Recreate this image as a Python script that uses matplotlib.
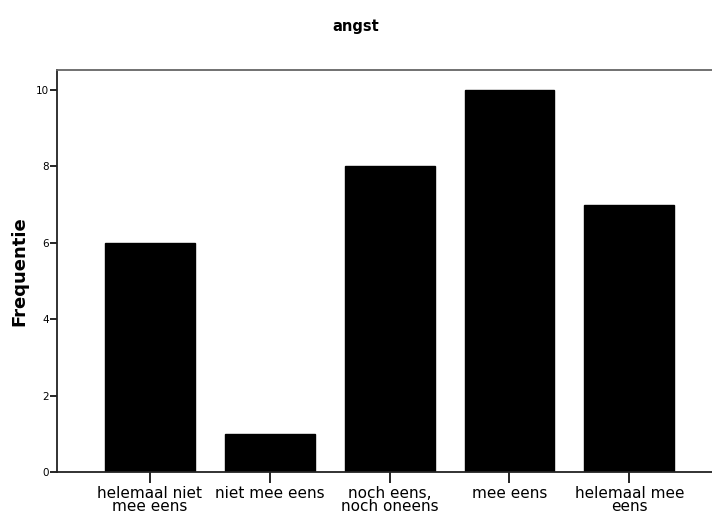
import matplotlib
matplotlib.use("Agg")
import matplotlib.pyplot as plt

categories = ["helemaal niet\nmee eens", "niet mee eens", "noch eens,\nnoch oneens", "mee eens", "helemaal mee\neens"]
values = [6, 1, 8, 10, 7]
yticks = [0, 2, 4, 6, 8, 10]

plt.rcParams['font.family'] = ['DejaVu Sans']
fig = plt.figure(figsize=(7.12, 5.18), dpi=100)
ax = fig.add_axes([57/712, 1-472/518, 1-57/712, (472-70)/518])
x = list(range(len(categories)))
ax.bar(x, values, width=0.75, color='black', edgecolor='black')
ax.set_xlim(-0.775, 4.69)
ax.set_ylim(0, 10.52)
ax.set_yticks(yticks)
ax.set_yticklabels([str(v) for v in yticks], fontsize=7.5)
ax.set_xticks(x)
ax.set_xticklabels(categories, fontsize=11, linespacing=0.85)
ax.tick_params(axis='y', direction='out', length=5, width=1.2, pad=1)
ax.tick_params(axis='x', direction='out', length=8, width=1.2, pad=2)
for s in ['left', 'bottom']:
    ax.spines[s].set_color('#222222')
    ax.spines[s].set_linewidth(1.3)
ax.spines['top'].set_color('#666666')
ax.spines['top'].set_linewidth(1.3)
ax.spines['right'].set_visible(False)
ax.set_ylabel('Frequentie', fontsize=13, fontweight='bold', labelpad=5)
fig.text(0.5, 1-27/518, 'angst', ha='center', va='center', fontsize=10.5, fontweight='bold')
fig.savefig('out.png', dpi=100)
